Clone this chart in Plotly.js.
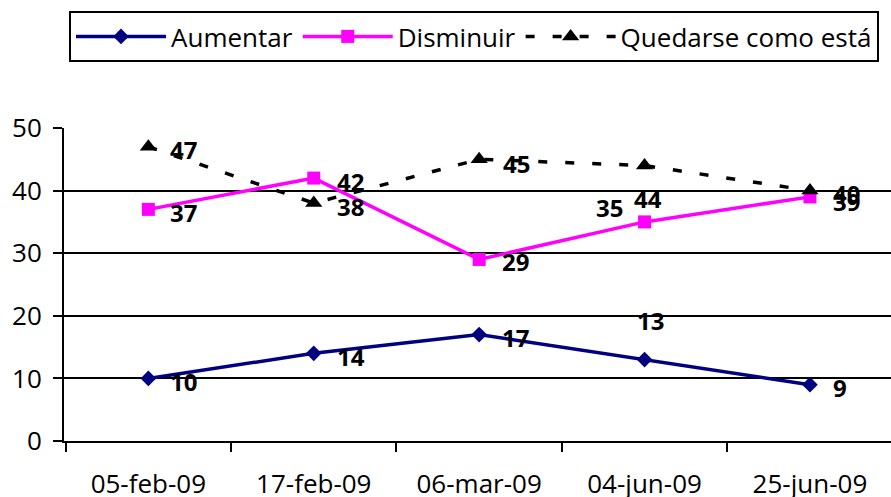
<!DOCTYPE html>
<html>
<head>
<meta charset="utf-8">
<script src="https://cdn.plot.ly/plotly-3.0.1.min.js"></script>
<style>html,body{margin:0;padding:0;background:#fff;}#chart{width:891px;height:497px;}</style>
</head>
<body>
<div id="chart"></div>
<script>
// ---- data ----
const categories = ["05-feb-09", "17-feb-09", "06-mar-09", "04-jun-09", "25-jun-09"];
const seriesNames = ["Aumentar", "Disminuir", "Quedarse como está"];
const aumentar = [10, 14, 17, 13, 9];
const disminuir = [37, 42, 29, 35, 39];
const quedarse = [47, 38, 45, 44, 40];
const yTicks = [0, 10, 20, 30, 40, 50];

// ---- label placement (style only) ----
// [xanchor, xshift, yshift]
const labelPlacement = [
  [["left",20,-3],["left",21,-3],["left",21,-3],["center",6,39],["left",21,-3]],
  [["left",20,-3],["left",21,-3],["left",21,-2],["right",-20,14],["left",21,-5]],
  [["left",20,-3],["left",21,-3],["left",22,-4],["center",3,-33],["left",21,-3]]
];

const FONT = "Open Sans, Noto Sans, sans-serif";
const allSeries = [aumentar, disminuir, quedarse];

const traces = [
  {x: categories, y: aumentar, name: seriesNames[0], type: "scatter", mode: "lines+markers",
   line: {color: "#000080", width: 3.5}, marker: {symbol: "diamond", size: 12, color: "#000080"}},
  {x: categories, y: disminuir, name: seriesNames[1], type: "scatter", mode: "lines+markers",
   line: {color: "#FF00FF", width: 3.5}, marker: {symbol: "square", size: 13, color: "#FF00FF"}},
  {x: categories, y: quedarse, name: seriesNames[2], type: "scatter", mode: "lines+markers",
   line: {color: "#000000", width: 3.5, dash: "9px,18px"}, marker: {symbol: "triangle-up", size: 15, color: "#000000"}}
];

const annotations = [];
allSeries.forEach((vals, si) => {
  vals.forEach((v, i) => {
    const p = labelPlacement[si][i];
    annotations.push({
      x: categories[i], y: v, xref: "x", yref: "y", text: String(v), showarrow: false,
      xanchor: p[0], yanchor: "middle", xshift: p[1], yshift: p[2],
      font: {family: FONT, size: 24, color: "#000", weight: "bold"}
    });
  });
});

const layout = {
  width: 891, height: 497,
  paper_bgcolor: "#fff", plot_bgcolor: "#fff",
  margin: {l: 64, r: 0, t: 128, b: 56},
  showlegend: true,
  legend: {
    orientation: "h", xref: "container", yref: "container",
    x: 69/891, y: 1 - 11/497, xanchor: "left", yanchor: "top",
    bordercolor: "#000", borderwidth: 2, bgcolor: "#fff",
    font: {family: FONT, size: 26, color: "#000"},
    itemwidth: 90
  },
  xaxis: {
    type: "category", range: [-0.51, 4.49],
    showline: true, linecolor: "#000", linewidth: 2,
    ticks: "outside", tickson: "boundaries", ticklen: 9, tickwidth: 2, tickcolor: "#000",
    showgrid: false, zeroline: false,
    tickfont: {family: FONT, size: 26, color: "#000"}, ticklabelstandoff: 19
  },
  yaxis: {
    range: [0, 50], tickvals: yTicks, ticktext: yTicks.map(String),
    showline: true, linecolor: "#000", linewidth: 2,
    ticks: "outside", ticklen: 9, tickwidth: 2, tickcolor: "#000",
    showgrid: true, gridcolor: "#000", gridwidth: 2, zeroline: false,
    tickfont: {family: FONT, size: 26, color: "#000"}, ticklabelstandoff: 6
  },
  annotations: annotations
};

Plotly.newPlot("chart", traces, layout, {displayModeBar: false, staticPlot: true});
</script>
</body>
</html>
